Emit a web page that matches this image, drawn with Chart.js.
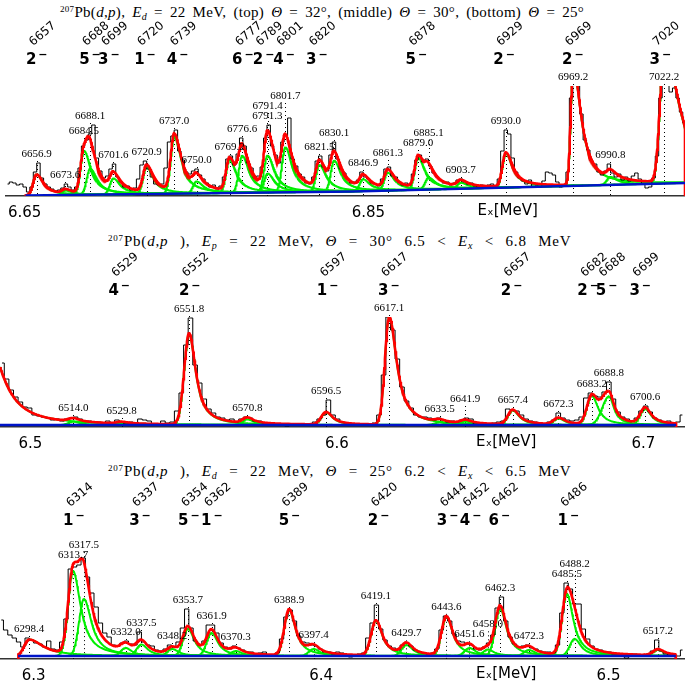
<!DOCTYPE html>
<html>
<head>
<meta charset="utf-8">
<script src="https://cdn.jsdelivr.net/npm/chart.js@4.4.1/dist/chart.umd.min.js"></script>
<style>
  body { margin: 0; background: #fff; width: 685px; height: 690px; overflow: hidden; position: relative; }
  canvas { position: absolute; left: 0; top: 0; }
  .ttl { position: absolute; white-space: nowrap; font-family: "Liberation Serif", serif; font-size: 15px; word-spacing: 3px; letter-spacing: 0.3px; color: #000; line-height: 18px; }
  .ttl.wide { word-spacing: 7px; letter-spacing: 0.8px; }
  .ttl sup { font-size: 9px; vertical-align: 5px; }
  .ttl sub { font-size: 10px; vertical-align: -3px; }
</style>
</head>
<body>
<div class="ttl" style="left:60px;top:0px"><sup>207</sup>Pb(<i>d</i>,<i>p</i>), <i>E<sub>d</sub></i> = 22 MeV, (top) <i>Θ</i> = 32°, (middle) <i>Θ</i> = 30°, (bottom) <i>Θ</i> = 25°</div>
<div class="ttl wide" style="left:108px;top:229px"><sup>207</sup>Pb(<i>d</i>,<i>p</i> ), <i>E<sub>p</sub></i> = 22 MeV, <i>Θ</i> = 30° 6.5 &lt; <i>E<sub>x</sub></i> &lt; 6.8 MeV</div>
<div class="ttl wide" style="left:108px;top:459px"><sup>207</sup>Pb(<i>d</i>,<i>p</i> ), <i>E<sub>d</sub></i> = 22 MeV, <i>Θ</i> = 25° 6.2 &lt; <i>E<sub>x</sub></i> &lt; 6.5 MeV</div>
<canvas id="c1" width="685" height="690"></canvas>
<canvas id="c2" width="685" height="690"></canvas>
<canvas id="c3" width="685" height="690"></canvas>
<script>
// ---------- top: Θ = 32° (energies in keV, counts in arbitrary units)
const topTicks = [6650, 6850, 7050];
const topLevels = [6657, 6688, 6699, 6720, 6739, 6777, 6789, 6801, 6820, 6878, 6929, 6969, 7020];
const topSpins = ["2", "5", "3", "1", "4", "6", "2", "4", "3", "5", "2", "2", "3"];
const topPeaks = [6656.9, 6673.6, 6684.5, 6688.1, 6701.6, 6720.9, 6737.0, 6750.0, 6769.2, 6776.6, 6791.3, 6791.4,
  6801.7, 6821.5, 6830.1, 6846.9, 6861.3, 6879.0, 6885.1, 6903.7, 6930.0, 6969.2, 6990.8, 7022.2];
const topHeights = [21, 4.5, 44, 26, 16, 27, 57, 12, 33, 37, 37, 19, 45, 27, 31, 12, 18, 32, 12, 6, 34, 120, 8, 137];
const topSigma = [2, 2, 2, 2, 2, 2, 2, 2, 2, 2, 2, 2, 2, 2, 2, 2, 2, 2, 2, 2, 2, 1.4, 2, 2.4];
const topGamma = [5, 5, 5, 5, 5, 5, 5, 5, 5, 5, 5, 5, 5, 5, 5, 5, 5, 5, 5, 5, 5, 5.5, 5, 10];
const topBgE = [6650.5, 6841, 7034.3];
const topBgY = [0.5, 4.5, 13];
const topHist = [12, 14, 13, 11, 12, 9, 4, 9, 24, 33, 18, 12, 9, 7, 5, 6, 8, 12, 9, 6,
  9, 28, 50, 56, 62, 71, 38, 25, 18, 20, 27, 32, 19, 14, 9, 10, 6, 8, 17, 31,
  35, 27, 19, 12, 11, 12, 28, 54, 60, 66, 45, 36, 24, 22, 25, 27, 21, 17, 13, 9,
  11, 7, 10, 19, 37, 40, 31, 42, 58, 50, 33, 28, 18, 20, 29, 58, 71, 50, 41, 33,
  54, 60, 78, 37, 30, 22, 19, 13, 12, 19, 35, 40, 29, 25, 41, 54, 37, 27, 23, 17,
  13, 14, 16, 24, 19, 17, 13, 12, 10, 17, 27, 29, 20, 19, 14, 11, 13, 11, 22, 36,
  41, 34, 37, 30, 23, 19, 16, 13, 14, 11, 13, 16, 17, 14, 12, 13, 10, 9, 11, 8,
  11, 12, 10, 17, 45, 66, 62, 38, 24, 18, 15, 12, 16, 9, 10, 9, 15, 24, 23, 21,
  14, 9, 11, 24, 98, 118, 115, 82, 56, 46, 35, 32, 24, 21, 25, 32, 23, 19, 22, 16,
  19, 15, 20, 23, 17, 12, 8, 9, 18, 40, 98, 118, 112, 104, 108, 98, 84, 73];

// ---------- middle: Θ = 30°
const midTicks = [6500, 6600, 6700];
const midLevels = [6529, 6552, 6597, 6617, 6657, 6682, 6688, 6699];
const midSpins = ["4", "2", "1", "3", "2", "2", "5", "3"];
const midPeaks = [6486.0, 6514.0, 6529.8, 6551.8, 6570.8, 6596.5, 6617.1, 6633.5, 6641.9, 6657.4, 6672.3, 6683.2, 6688.8, 6700.6];
const midTagged = [false, true, true, true, true, true, true, true, true, true, true, true, true, true];
const midHeights = [85, 3.3, 1.7, 91, 5.6, 12.5, 108, 2.5, 3.5, 14.5, 6.5, 29, 28.5, 16];
const midSigma = [3, 1.6, 1.6, 1.6, 1.6, 1.6, 1.4, 1.6, 1.6, 1.6, 1.6, 1.6, 2.2, 1.6];
const midGamma = [6, 2.6, 2.6, 2.6, 2.6, 2.6, 2.9, 2.6, 2.6, 2.6, 2.6, 2.5, 2.0, 2.4];
const midBgE = [6490.1, 6710.7];
const midBgY = [2, 2];
const midHist = [64, 48, 37, 30, 25, 20, 19, 12, 11, 10, 9, 7, 8, 6, 8, 9, 10, 8, 6, 6,
  5, 5, 4, 6, 4, 7, 5, 3, 5, 4, 8, 7, 6, 3, 3, 6, 4, 5, 16, 34,
  82, 109, 62, 44, 28, 18, 14, 10, 9, 7, 8, 5, 8, 10, 9, 6, 6, 4, 3, 2,
  2, 3, 1, 3, 2, 3, 2, 3, 5, 8, 12, 27, 12, 8, 5, 4, 3, 2, 3, 2,
  3, 4, 12, 52, 110, 97, 68, 40, 26, 19, 12, 10, 10, 9, 7, 9, 7, 5, 6, 5,
  7, 9, 8, 3, 2, 3, 2, 4, 5, 6, 18, 17, 16, 12, 8, 6, 5, 4, 3, 5,
  7, 14, 9, 7, 6, 7, 10, 29, 34, 31, 30, 35, 45, 28, 15, 10, 8, 6, 9, 16,
  21, 15, 9, 7, 5, 6, 4, 5, 12];

// ---------- bottom: Θ = 25°
const botTicks = [6300, 6400, 6500];
const botLevels = [6314, 6337, 6354, 6362, 6389, 6420, 6444, 6452, 6462, 6486];
const botSpins = ["1", "3", "5", "1", "5", "2", "3", "4", "6", "1"];
const botPeaks = [6298.4, 6313.7, 6317.5, 6332.0, 6337.5, 6348.2, 6353.7, 6361.9, 6370.3, 6388.9, 6397.4,
  6419.1, 6429.7, 6443.6, 6451.6, 6458.0, 6462.3, 6472.3, 6485.5, 6488.2, 6517.2];
const botHeights = [16.5, 85, 57, 8, 11.5, 7, 27, 23, 5, 46, 7, 35, 11, 39, 8, 6.4, 47, 6, 62, 17, 6];
const botSigma = [1.7, 1.7, 1.7, 1.7, 1.7, 1.7, 1.7, 1.7, 1.7, 1.7, 1.7, 1.7, 1.7, 1.7, 1.7, 1.7, 1.7, 1.7, 1.7, 1.7, 1.7];
const botGamma = [6, 3.2, 3.2, 2.7, 2.7, 2.7, 2.7, 2.7, 2.7, 2.7, 2.7, 2.7, 2.7, 2.7, 2.7, 2.7, 2.7, 2.7, 2.7, 2.7, 2.7];
const botBgE = [6294.6, 6523.4];
const botBgY = [3, 3];
const botHist = [39, 29, 24, 21, 17, 12, 21, 19, 16, 15, 12, 18, 10, 9, 17, 40, 90, 92, 94, 101,
  82, 66, 52, 36, 26, 22, 14, 13, 16, 18, 15, 14, 27, 17, 14, 13, 9, 8, 10, 14,
  12, 17, 31, 50, 31, 18, 14, 18, 34, 34, 26, 16, 12, 10, 13, 11, 9, 7, 7, 5,
  6, 7, 4, 3, 6, 20, 42, 49, 38, 23, 17, 16, 14, 13, 10, 7, 7, 5, 7, 6,
  4, 2, 3, 5, 6, 21, 36, 54, 30, 19, 13, 11, 9, 14, 16, 13, 9, 7, 6, 5,
  6, 10, 29, 43, 38, 25, 18, 17, 15, 14, 10, 9, 12, 16, 24, 51, 62, 38, 22, 15,
  12, 13, 14, 11, 10, 8, 7, 7, 6, 14, 46, 76, 70, 55, 55, 30, 20, 13, 10, 9,
  7, 7, 5, 5, 4, 1, 3, 5, 4, 4, 5, 8, 19, 8, 5, 4, 4, 3, 9];

const RED = "#ff0000", GREEN = "#00ee00", BLUE = "#0014c8";

function peakShape(e, c, h, s, g) {
  const d = e - c;
  return d <= 0 ? h * Math.exp(-0.5 * d * d / (s * s)) : h / (1 + (d / g) * (d / g));
}

function bgAt(e, be, by) {
  if (e <= be[0]) return by[0];
  for (let i = 1; i < be.length; i++) {
    if (e <= be[i]) return by[i - 1] + (by[i] - by[i - 1]) * (e - be[i - 1]) / (be[i] - be[i - 1]);
  }
  return by[by.length - 1];
}

function buildPanel(p) {
  const n = p.peaks.length;
  const fitStart = p.bgE[0], fitEnd = p.bgE[p.bgE.length - 1];
  const step = 0.2;
  const total = e => {
    let v = bgAt(e, p.bgE, p.bgY);
    for (let i = 0; i < n; i++) v += peakShape(e, p.peaks[i], p.heights[i], p.sigma[i], p.gamma[i]);
    return v;
  };
  p.total = total;

  // fit curve: drops to the axis at the ends of the fit range
  const red = fitStart > p.xmin + 1 ? [{ x: fitStart, y: 0 }] : [];
  for (let e = fitStart; e <= fitEnd; e += step) red.push({ x: e, y: total(e) });
  red.push({ x: fitEnd, y: total(fitEnd) }, { x: fitEnd, y: 0 });

  const datasets = [];
  for (let i = 0; i < n; i++) {
    const lo = Math.max(fitStart, p.peaks[i] - 5 * p.sigma[i]);
    const hi = Math.min(fitEnd, p.peaks[i] + 18 * p.gamma[i]);
    const pts = [];
    for (let e = lo; e <= hi; e += step) {
      pts.push({ x: e, y: bgAt(e, p.bgE, p.bgY) + peakShape(e, p.peaks[i], p.heights[i], p.sigma[i], p.gamma[i]) });
    }
    datasets.push({ data: pts, borderColor: GREEN, borderWidth: 2, order: 4 });
  }
  const hist = p.hist.map((v, i) => ({ x: p.histStart + (i + 0.5) * p.binWidth, y: v }));
  datasets.push({ data: hist, borderColor: "#000", borderWidth: 1, stepped: "middle", order: 3 });
  datasets.push({ data: red, borderColor: RED, borderWidth: 2.6, order: 2 });
  datasets.push({ data: p.bgE.map((e, i) => ({ x: e, y: p.bgY[i] })), borderColor: BLUE, borderWidth: 2.4, order: 1 });
  datasets.forEach(d => { d.pointRadius = 0; d.tension = 0; d.fill = false; });
  return datasets;
}

const annotate = {
  id: "annotate",
  beforeDatasetsDraw(chart, args, opts) {
    const p = opts.panel, xs = chart.scales.x, ys = chart.scales.y, ctx = chart.ctx, area = chart.chartArea;
    ctx.save();
    ctx.font = "11px 'Liberation Serif'";
    const placed = [];
    p.labelBoxes = [];
    p.peaks.forEach((c, i) => {
      if (p.tagged && !p.tagged[i]) return;
      const px = xs.getPixelForValue(c);
      let top = p.total(c);
      p.hist.forEach((v, k) => {
        const e = p.histStart + (k + 0.5) * p.binWidth;
        if (Math.abs(e - c) <= p.binWidth * 1.2) top = Math.max(top, v);
      });
      let yb = Math.max(ys.getPixelForValue(Math.min(top, ys.max)), area.top) - 6;
      const txt = c.toFixed(1);
      const w = ctx.measureText(txt).width;
      let moved = true;
      while (moved) {
        moved = false;
        for (const b of placed) {
          if (px - w / 2 < b.r + 1 && px + w / 2 > b.l - 1 && yb > b.t && yb - 9 < b.b) {
            yb = b.t - 1; moved = true;
          }
        }
      }
      placed.push({ l: px - w / 2, r: px + w / 2, t: yb - 9, b: yb + 1 });
      p.labelBoxes.push({ txt, px, yb });
    });
    ctx.strokeStyle = "#000";
    ctx.lineWidth = 1;
    ctx.setLineDash([1, 3]);
    p.labelBoxes.forEach(b => {
      ctx.beginPath();
      ctx.moveTo(Math.round(b.px) + 0.5, b.yb + 4);
      ctx.lineTo(Math.round(b.px) + 0.5, area.bottom);
      ctx.stroke();
    });
    ctx.restore();
    // keep every curve inside the plot box
    ctx.save();
    ctx.beginPath();
    ctx.rect(area.left, area.top, area.right - area.left, area.bottom - area.top + 2);
    ctx.clip();
  },
  afterDatasetsDraw(chart) {
    chart.ctx.restore();
  },
  afterDraw(chart, args, opts) {
    const p = opts.panel, xs = chart.scales.x, ctx = chart.ctx, area = chart.chartArea;
    ctx.save();
    ctx.fillStyle = "#000";
    ctx.textAlign = "center";
    ctx.textBaseline = "alphabetic";
    ctx.font = "11px 'Liberation Serif'";
    p.labelBoxes.forEach(b => ctx.fillText(b.txt, b.px, b.yb));

    // level energies, written at a slant
    const ang = -40 * Math.PI / 180, ca = Math.cos(ang), sa = Math.sin(ang);
    p.levels.forEach(l => {
      ctx.save();
      ctx.setTransform(ca, sa, -sa, ca, xs.getPixelForValue(l) + 6, area.top - 52);
      ctx.font = p.levelFont + "px 'DejaVu Sans'";
      ctx.fillStyle = "#000";
      ctx.textAlign = "center";
      ctx.textBaseline = "middle";
      ctx.fillText(String(l), 0, 0);
      ctx.restore();
    });

    // spins and parities
    ctx.textBaseline = "alphabetic";
    ctx.textAlign = "left";
    p.levels.forEach((l, i) => {
      const x = xs.getPixelForValue(l), y = area.top - 22;
      ctx.font = "bold 15px 'DejaVu Sans'";
      const wd = ctx.measureText(p.spins[i]).width;
      ctx.font = "bold 11px 'DejaVu Sans'";
      const wm = ctx.measureText("\u2212").width;
      const x0 = x - (wd + 2 + wm) / 2;
      ctx.font = "bold 15px 'DejaVu Sans'";
      ctx.fillText(p.spins[i], x0, y);
      ctx.font = "bold 11px 'DejaVu Sans'";
      ctx.fillText("\u2212", x0 + wd + 2, y - 6);
    });

    // axis title among the tick labels
    ctx.textAlign = "center";
    ctx.font = "15px 'DejaVu Sans'";
    ctx.textBaseline = "top";
    ctx.fillText("E\u2093[MeV]", area.left + 0.739 * (area.right - area.left), area.bottom + 8);
    ctx.restore();
  }
};

function makeChart(id, p) {
  return new Chart(document.getElementById(id), {
    type: "line",
    data: { datasets: buildPanel(p) },
    options: {
      responsive: false,
      animation: false,
      devicePixelRatio: 1,
      parsing: false,
      layout: { padding: { top: p.areaTop, bottom: 690 - p.areaBottom - 30, left: 0, right: 0 } },
      plugins: { legend: { display: false }, tooltip: { enabled: false }, annotate: { panel: p } },
      scales: {
        x: {
          type: "linear", min: p.xmin, max: p.xmax,
          afterFit: s => { s.height = 30; },
          afterBuildTicks: s => { s.ticks = p.ticks.filter(v => v >= p.xmin && v <= p.xmax).map(v => ({ value: v })); },
          ticks: {
            callback: v => String(v / 1000),
            font: { family: "DejaVu Sans", size: 15 }, color: "#000", padding: 8, maxRotation: 0, autoSkip: false
          },
          grid: { drawOnChartArea: false, drawTicks: false, color: "#000" },
          border: { display: true, color: "#333", width: 1.5 }
        },
        y: {
          min: 0, max: p.ymax,
          afterFit: s => { s.width = 0; },
          ticks: { display: false }, grid: { display: false, drawTicks: false }, border: { display: false }
        }
      }
    },
    plugins: [annotate]
  });
}

makeChart("c1", {
  areaTop: 86, areaBottom: 196, xmin: 6639.0, xmax: 7034.3, ymax: 110, levelFont: 12,
  ticks: topTicks, levels: topLevels, spins: topSpins, peaks: topPeaks, heights: topHeights,
  sigma: topSigma, gamma: topGamma, bgE: topBgE, bgY: topBgY, hist: topHist, histStart: 6639, binWidth: 2
});
makeChart("c2", {
  areaTop: 317, areaBottom: 427, xmin: 6490.1, xmax: 6713.6, ymax: 110, levelFont: 12,
  ticks: midTicks, levels: midLevels, spins: midSpins, peaks: midPeaks, tagged: midTagged, heights: midHeights,
  sigma: midSigma, gamma: midGamma, bgE: midBgE, bgY: midBgY, hist: midHist, histStart: 6490, binWidth: 1.5
});
makeChart("c3", {
  areaTop: 547, areaBottom: 659, xmin: 6288.3, xmax: 6526.6, ymax: 112, levelFont: 12,
  ticks: botTicks, levels: botLevels, spins: botSpins, peaks: botPeaks, heights: botHeights,
  sigma: botSigma, gamma: botGamma, bgE: botBgE, bgY: botBgY, hist: botHist, histStart: 6288, binWidth: 1.5
});
</script>
</body>
</html>
